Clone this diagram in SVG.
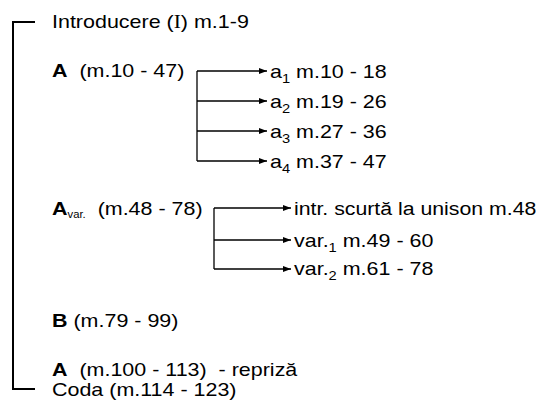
<svg xmlns="http://www.w3.org/2000/svg" width="541" height="403" viewBox="0 0 541 403">
<defs>
<style>
.t{font-family:"Liberation Sans",Arial,sans-serif;font-size:19px;fill:#000;white-space:pre}
.b{font-weight:bold}
.s{font-size:13px}
.sv{font-size:10px}
.serif{font-family:"Liberation Serif","Times New Roman",serif}
.ln{fill:none;stroke:#000;stroke-width:1.3}
.br{fill:none;stroke:#000;stroke-width:2}
</style>
<marker id="ah" viewBox="0 0 8 6" refX="8" refY="3" markerWidth="8" markerHeight="6" markerUnits="userSpaceOnUse" orient="auto">
<path d="M0,0 L8,3 L0,6 Z" fill="#000"/>
</marker>
</defs>
<rect width="541" height="403" fill="#fff"/>
<g id="connectors">
<path class="br" d="M35,22 H13 V389 H35"/>
<path class="ln" d="M197,71 H267" marker-end="url(#ah)"/>
<path class="ln" d="M197,71 V161"/>
<path class="ln" d="M197,101 H267" marker-end="url(#ah)"/>
<path class="ln" d="M197,131 H267" marker-end="url(#ah)"/>
<path class="ln" d="M197,161 H267" marker-end="url(#ah)"/>
<path class="ln" d="M214,208 H291" marker-end="url(#ah)"/>
<path class="ln" d="M214,208 V269"/>
<path class="ln" d="M214,240 H291" marker-end="url(#ah)"/>
<path class="ln" d="M214,269 H291" marker-end="url(#ah)"/>
</g>
<g id="intro"><text class="t" transform="translate(52,28) scale(1.13,1)">Introducere (<tspan class="serif">I</tspan>) m.1-9</text></g>
<g id="A"><text class="t" transform="translate(52,77) scale(1.13,1)"><tspan class="b">A</tspan>  (m.10 - 47)</text></g>
<g id="a1"><text class="t" transform="translate(270,78) scale(1.13,1)">a<tspan class="s" dy="5">1</tspan><tspan dy="-5"> m.10 - 18</tspan></text></g>
<g id="a2"><text class="t" transform="translate(270,108) scale(1.13,1)">a<tspan class="s" dy="5">2</tspan><tspan dy="-5"> m.19 - 26</tspan></text></g>
<g id="a3"><text class="t" transform="translate(270,138) scale(1.13,1)">a<tspan class="s" dy="5">3</tspan><tspan dy="-5"> m.27 - 36</tspan></text></g>
<g id="a4"><text class="t" transform="translate(270,168) scale(1.13,1)">a<tspan class="s" dy="5">4</tspan><tspan dy="-5"> m.37 - 47</tspan></text></g>
<g id="Avar"><text class="t" transform="translate(52,215) scale(1.13,1)"><tspan class="b">A</tspan><tspan class="sv" dy="3">var.</tspan><tspan dy="-3">  (m.48 - 78)</tspan></text></g>
<g id="intr"><text class="t" transform="translate(294,215) scale(1.12,1)">intr. scurtă la unison m.48</text></g>
<g id="var1"><text class="t" transform="translate(294,247) scale(1.13,1)">var.<tspan class="s" dy="5">1</tspan><tspan dy="-5"> m.49 - 60</tspan></text></g>
<g id="var2"><text class="t" transform="translate(294,275) scale(1.13,1)">var.<tspan class="s" dy="5">2</tspan><tspan dy="-5"> m.61 - 78</tspan></text></g>
<g id="B"><text class="t" transform="translate(52,327) scale(1.13,1)"><tspan class="b">B</tspan> (m.79 - 99)</text></g>
<g id="Arep"><text class="t" transform="translate(52,376) scale(1.13,1)"><tspan class="b">A</tspan>  (m.100 - 113)  - repriză</text></g>
<g id="coda"><text class="t" transform="translate(52,396) scale(1.13,1)">Coda (m.114 - 123)</text></g>
</svg>
